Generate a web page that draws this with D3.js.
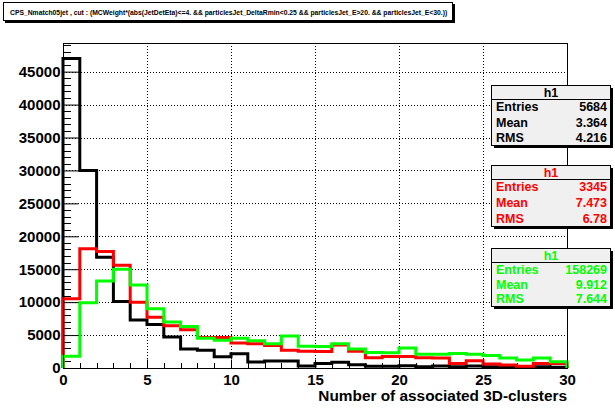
<!DOCTYPE html>
<html><head><meta charset="utf-8">
<script src="https://cdn.jsdelivr.net/npm/d3@7"></script>
<style>body{margin:0;background:#fff;}svg{display:block;font-family:"Liberation Sans",Arial,Helvetica,sans-serif;font-weight:bold;}</style>
</head><body>
<script>
// Data (bin lower edges 0..29, width 1)
const binEdges = d3.range(0, 31);
const blackValues = [47000,30000,16800,10100,7300,6600,4700,2900,2700,1700,2150,900,1050,1050,300,700,880,500,250,250,350,200,300,200,300,200,200,100,200,100];
const redValues   = [10500,18100,17700,15600,10000,7700,6400,5800,4650,4650,3800,3700,3400,2700,2550,2500,3500,2550,1550,1750,1750,1550,1500,700,1100,600,450,250,700,700];
const greenValues = [1800,9900,13200,15000,12600,9000,7000,6300,4500,4200,4500,4150,3700,4850,3300,3250,3700,2900,2350,2300,3050,2100,2100,2200,2100,1900,1500,1200,1500,950];
const yTicks = [0,5000,10000,15000,20000,25000,30000,35000,40000,45000];
const xTicks = [0,5,10,15,20,25,30];
const stats = [
  {name:"h1", color:"#000000", entries:"5684", mean:"3.364", rms:"4.216"},
  {name:"h1", color:"#ff0000", entries:"3345", mean:"7.473", rms:"6.78"},
  {name:"h1", color:"#00ff00", entries:"158269", mean:"9.912", rms:"7.644"}
];
const titleText = "CPS_Nmatch05jet , cut : (MCWeight*(abs(JetDetEta)<=4. && particlesJet_DeltaRmin<0.25 && particlesJet_E>20. && particlesJet_E<30.))";
const xTitle = "Number of associated 3D-clusters";

const W = 615, H = 411;
const svg = d3.select("body").append("svg").attr("width", W).attr("height", H);
const L = 63, R = 567, T = 43, B = 368;
const x = d3.scaleLinear().domain([0, 30]).range([L, R]);
const y = d3.scaleLinear().domain([0, 49350]).range([B, T]);

// grid
const grid = svg.append("g").attr("stroke", "#000").attr("stroke-width", 1).attr("stroke-dasharray", "1,2");
grid.selectAll(".gy").data(yTicks.filter(d => d > 0)).enter().append("line")
  .attr("x1", L).attr("x2", R).attr("y1", d => Math.round(y(d)) + 0.5).attr("y2", d => Math.round(y(d)) + 0.5);
grid.selectAll(".gx").data(xTicks.filter(d => d > 0 && d < 30)).enter().append("line")
  .attr("y1", T).attr("y2", B).attr("x1", d => Math.round(x(d)) + 0.5).attr("x2", d => Math.round(x(d)) + 0.5);

// minor ticks
const minorY = d3.range(0, 49001, 1000).filter(v => v % 5000 !== 0);
svg.append("g").selectAll("line").data(minorY).enter().append("line")
  .attr("x1", L).attr("x2", L + 8).attr("y1", d => Math.round(y(d)) + 0.5).attr("y2", d => Math.round(y(d)) + 0.5)
  .attr("stroke", "#000");
const minorX = d3.range(0, 31).filter(v => v % 5 !== 0);
svg.append("g").selectAll("line").data(minorX).enter().append("line")
  .attr("y1", B).attr("y2", B - 5).attr("x1", d => Math.round(x(d)) + 0.5).attr("x2", d => Math.round(x(d)) + 0.5)
  .attr("stroke", "#000");

// histograms
function stepPath(vals) {
  const p = d3.path();
  p.moveTo(x(0), y(0));
  vals.forEach((v, i) => { p.lineTo(x(binEdges[i]), y(v)); p.lineTo(x(binEdges[i + 1]), y(v)); });
  p.lineTo(x(30), y(0));
  return p.toString();
}
[[blackValues, "#000000"], [redValues, "#ff0000"], [greenValues, "#00ff00"]].forEach(([vals, c]) => {
  svg.append("path").attr("d", stepPath(vals)).attr("fill", "none").attr("stroke", c).attr("stroke-width", 3).attr("stroke-linejoin", "miter");
});

// frame
svg.append("rect").attr("x", L + 0.5).attr("y", T + 0.5).attr("width", R - L).attr("height", B - T)
  .attr("fill", "none").attr("stroke", "#000").attr("stroke-width", 1);

// axes
const yAxis = d3.axisLeft(y).tickValues(yTicks).tickSize(-15).tickPadding(3).tickFormat(d3.format("d"));
const gy = svg.append("g").attr("transform", `translate(${L + 0.5},0)`).call(yAxis);
gy.select(".domain").remove();
gy.selectAll("text").attr("font-size", 15).attr("font-weight", "bold").attr("font-family", '"Liberation Sans",Arial,sans-serif').attr("fill", "#000");
const xAxis = d3.axisBottom(x).tickValues(xTicks).tickSize(-9).tickPadding(6).tickFormat(d3.format("d"));
const gx = svg.append("g").attr("transform", `translate(0,${B + 0.5})`).call(xAxis);
gx.select(".domain").remove();
gx.selectAll("text").attr("font-size", 15).attr("font-weight", "bold").attr("font-family", '"Liberation Sans",Arial,sans-serif').attr("fill", "#000");

// x title
const xt = svg.append("text").attr("x", R).attr("y", 401).attr("text-anchor", "end").attr("font-size", 15).text(xTitle);
const xtl = xt.node().getComputedTextLength();
xt.attr("font-size", 15 * 249 / xtl);

// title box
svg.append("rect").attr("x", 5).attr("y", 4).attr("width", 450).attr("height", 19).attr("fill", "#000");
svg.append("rect").attr("x", 3.5).attr("y", 2.5).attr("width", 449).attr("height", 18).attr("fill", "#fff").attr("stroke", "#000");
const tt = svg.append("text").attr("x", 10).attr("y", 14.5).attr("font-size", 8).text(titleText);
const ttl = tt.node().getComputedTextLength();
tt.attr("font-size", 8 * 438 / ttl);

// stat boxes
const boxes = [{top: 85, sep: 99, bottom: 145}, {top: 165, sep: 179, bottom: 226}, {top: 248, sep: 262, bottom: 306}];
stats.forEach((s, i) => {
  const b = boxes[i];
  const g = svg.append("g");
  g.append("rect").attr("x", 494).attr("y", b.top + 3).attr("width", 119).attr("height", b.bottom - b.top).attr("fill", "#000");
  g.append("rect").attr("x", 491.5).attr("y", b.top + 0.5).attr("width", 119).attr("height", b.bottom - b.top).attr("fill", "#f0f0f0").attr("stroke", "#000");
  g.append("line").attr("x1", 491.5).attr("x2", 610.5).attr("y1", b.sep + 0.5).attr("y2", b.sep + 0.5).attr("stroke", "#000");
  g.append("text").attr("x", 551).attr("y", b.sep - 2.5).attr("text-anchor", "middle").attr("font-size", 12.5).attr("fill", s.color).text(s.name);
  const rows = [["Entries", s.entries], ["Mean", s.mean], ["RMS", s.rms]];
  const h = (b.bottom - b.sep) / 3;
  rows.forEach((r, j) => {
    const yy = b.sep + h * (j + 0.5) + 4.5;
    g.append("text").attr("x", 496).attr("y", yy).attr("font-size", 12.5).attr("fill", s.color).text(r[0]);
    g.append("text").attr("x", 607).attr("y", yy).attr("text-anchor", "end").attr("font-size", 12.5).attr("fill", s.color).text(r[1]);
  });
});
</script>
</body></html>
